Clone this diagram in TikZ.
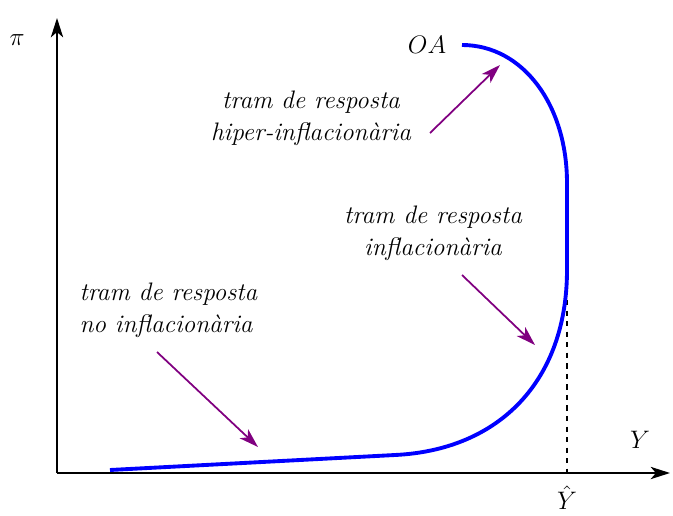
\documentclass[tikz,border=0pt]{standalone}
\usetikzlibrary{arrows.meta}
\definecolor{arrowpurple}{RGB}{128,0,128}
\begin{document}
\begin{tikzpicture}[x=0.02cm,y=0.02cm,>={Stealth[length=11pt,width=7pt,inset=3pt]},thick,
  lbl/.style={font=\Large\itshape,align=center},
  ptr/.style={->,color=arrowpurple,line width=1pt}]
\def\Yh{510}
\useasboundingbox (-57,-42) rectangle (616,473);
% axes
\draw[line width=1.1pt,->] (0,0) -- (613,0);
\draw[line width=1.1pt,->] (0,0) -- (0,455);
\node (pi) at (-40,433) {\Large$\pi$};
\node (Y) at (583,33) {\Large$Y$};
\node[inner sep=1pt] (Yhat) at (\Yh,-25) {\Large$\hat{Y}$};
\draw[dashed,line width=0.8pt] (\Yh,173) -- (\Yh,0);
% OA curve
\draw[color=blue,line width=2.2pt] (53,3) -- (338,18)
	.. controls (443,23) and (\Yh,93) .. (\Yh,203)
	-- (\Yh,290)
	.. controls (\Yh,368) and (466,428) .. (405,428);
\node (OA) at (370,428) {\Large$OA$};
% labels
\node[lbl,anchor=west,align=left] (noinf) at (16,163) {tram de resposta\\no inflacionària};
\node[lbl] (inf) at (376,240) {tram de resposta\\inflacionària};
\node[lbl] (hiper) at (254,355) {tram de resposta\\hiper-inflacionària};
\coordinate (t1) at (201,26);
\coordinate (t2) at (478,128);
\coordinate (t3) at (443,408);
\draw[ptr] (100,121) -- (t1);
\draw[ptr] (405,198) -- (t2);
\draw[ptr] (373,340) -- (t3);
\end{tikzpicture}
\end{document}
